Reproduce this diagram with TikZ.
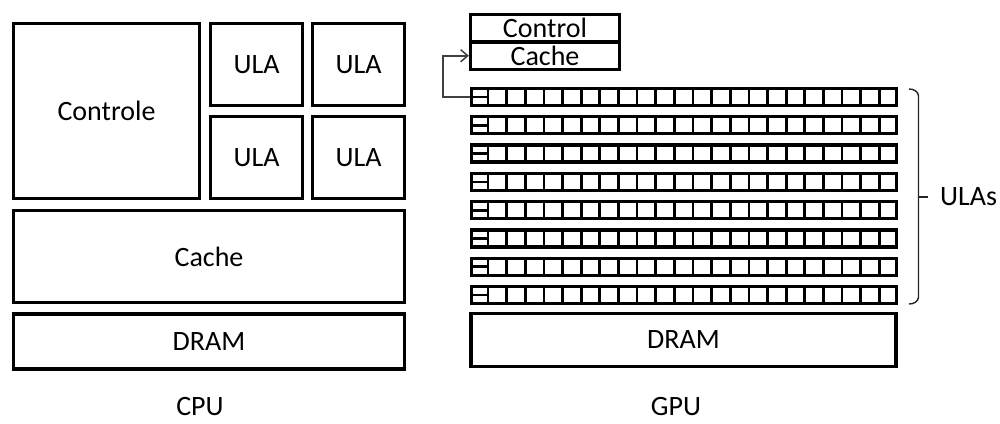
\documentclass[tikz,border=0pt]{standalone}
\usepackage{fontspec}
\setmainfont{Carlito}
\usetikzlibrary{arrows.meta}
\begin{document}
\begin{tikzpicture}[x=1pt,y=-1pt,
  lbl/.style={font=\fontsize{28}{30}\selectfont,text=black,inner sep=0pt},
  box/.style={lbl,draw=black,line width=3.3pt,rectangle},
  gpurow/.style={draw=black,line width=3.3pt,rectangle,inner sep=0pt,minimum width=425pt,minimum height=17pt},
  cellline/.style={draw=black,line width=2.7pt},
  link/.style={draw=black!75,line width=1.5pt,-{Straight Barb[length=7pt,width=12pt,line width=1.5pt]}},
  bracel/.style={draw=black!85,line width=1.4pt}]
\useasboundingbox (0,0) rectangle (1000,423);
% CPU
\node[box,minimum width=186pt,minimum height=175pt] (ctrl) at (106.5,111) {Controle};
\node[box,minimum width=92pt,minimum height=82pt] (ula1) at (256.5,64.5) {ULA};
\node[box,minimum width=92pt,minimum height=82pt] (ula2) at (358.5,64.5) {ULA};
\node[box,minimum width=92pt,minimum height=82pt] (ula3) at (256.5,157.5) {ULA};
\node[box,minimum width=92pt,minimum height=82pt] (ula4) at (358.5,157.5) {ULA};
\node[box,minimum width=391pt,minimum height=92pt] (ccache) at (209,256.5) {Cache};
\node[box,minimum width=391pt,minimum height=55pt] (cdram) at (209,341.5) {DRAM};
\node[lbl] (cpu) at (200,407) {CPU};
% GPU
\node[box,minimum width=149pt,minimum height=27.5pt] (gctrl) at (545,28.25) {Control};
\node[box,minimum width=149pt,minimum height=27.5pt] (gcache) at (545,55.75) {Cache};
\foreach \i in {0,...,7}{
  \pgfmathsetmacro\yc{97+28.3*\i}
  \node[gpurow] (row\i) at (684,\yc) {};
  \foreach \k in {0,...,21}{
    \draw[cellline] (488+\k*18.636,\yc-8.5) -- (488+\k*18.636,\yc+8.5);
  }
  \draw[cellline] (471.5,\yc) -- (488,\yc);
}
\node[box,minimum width=425pt,minimum height=53pt] (gdram) at (683.5,340) {DRAM};
\node[lbl] (gpu) at (676,407) {GPU};
% arrow from first row to cache
\coordinate (bend) at (443,97);
\draw[link] (row0.west) -- (bend) |- (gcache.west);
% brace
\coordinate (btop) at (909,89);
\coordinate (bbot) at (909,304);
\coordinate (btip) at (928,197);
\draw[bracel] (btop) to[out=0,in=90] (918.5,96) -- (918.5,297) to[out=-90,in=0] (bbot);
\draw[bracel] (918.5,197) -- (btip);
\node[lbl,anchor=west] (ulas) at (940,197) {ULAs};
\end{tikzpicture}
\end{document}
